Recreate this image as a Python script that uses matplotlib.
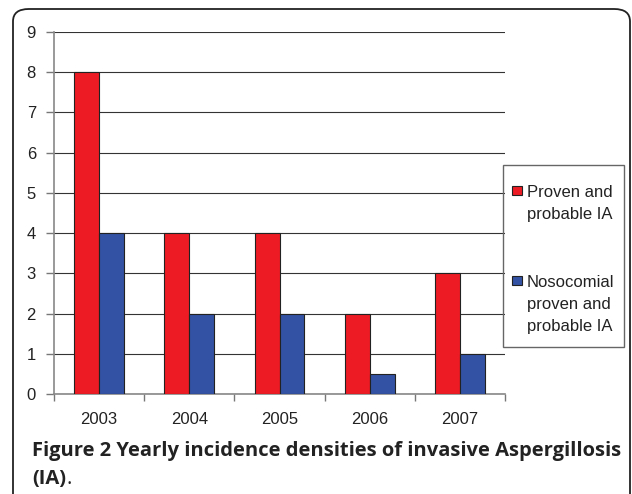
import numpy as np
import matplotlib.pyplot as plt
from matplotlib.patches import FancyBboxPatch, Rectangle

years = ['2003', '2004', '2005', '2006', '2007']
proven = [8, 4, 4, 2, 3]
nosocomial = [4, 2, 2, 0.5, 1]
series_names = [['Proven and', 'probable IA'],
                ['Nosocomial', 'proven and', 'probable IA']]
colors = ['#ED1C24', '#3352A3']

W, H = 632, 494
plt.rcParams['font.family'] = ['Liberation Sans', 'DejaVu Sans']
fig = plt.figure(figsize=(W / 100, H / 100), dpi=100)


def fx(px):
    return px / W


def fy(py):
    return 1 - py / H


# rounded frame around the whole figure
frame = FancyBboxPatch((fx(13), fy(520)), fx(630) - fx(13), fy(9) - fy(520),
                       boxstyle='round,pad=0,rounding_size=0.025',
                       transform=fig.transFigure, fill=False,
                       edgecolor='#222222', linewidth=1.3, clip_on=False)
fig.patches.append(frame)

ax = fig.add_axes([fx(54), fy(394), fx(505) - fx(54), fy(32) - fy(394)])
x = np.arange(len(years))
w = 0.277
ax.bar(x - w / 2, proven, w, color=colors[0], edgecolor='#222222', linewidth=0.8, zorder=3)
ax.bar(x + w / 2, nosocomial, w, color=colors[1], edgecolor='#222222', linewidth=0.8, zorder=3)

ax.set_xlim(-0.5, 4.5)
ax.set_ylim(0, 9)
ax.set_yticks(range(10))
ax.set_xticks(x)
ax.set_xticklabels(years)
ax.set_xticks(np.arange(-0.5, 5, 1), minor=True)
ax.tick_params(axis='x', which='major', length=0, pad=13, labelsize=12, labelcolor='#222222')
ax.tick_params(axis='x', which='minor', length=5, color='#777777', width=1)
ax.tick_params(axis='y', length=6, color='#777777', width=1, pad=7, labelsize=12, labelcolor='#222222')
ax.grid(axis='y', color='#333333', linewidth=0.8, zorder=0)
for s in ['top', 'right']:
    ax.spines[s].set_visible(False)
for s in ['left', 'bottom']:
    ax.spines[s].set_color('#888888')
    ax.spines[s].set_linewidth(1.2)

# legend box drawn by hand so the swatch sits next to the first line
fig.patches.append(Rectangle((fx(503), fy(347)), fx(624) - fx(503), fy(165) - fy(347),
                             transform=fig.transFigure, fill=False,
                             edgecolor='#666666', linewidth=1))
for top, col, lines in zip([186, 276], colors, series_names):
    fig.patches.append(Rectangle((fx(512), fy(top + 9)), fx(10), 9 / H,
                                 transform=fig.transFigure, facecolor=col,
                                 edgecolor='#222222', linewidth=0.8))
    for i, line in enumerate(lines):
        fig.text(fx(527), fy(top + 11 + 22 * i), line, fontsize=12,
                 color='#222222', va='baseline', ha='left')

cap_font = dict(fontsize=14.5, color='#222222', family='Open Sans', va='baseline', ha='left')
fig.text(fx(32), fy(456), 'Figure 2 Yearly incidence densities of invasive Aspergillosis',
         fontweight='bold', **cap_font)
t = fig.text(fx(32), fy(484), '(IA)', fontweight='bold', **cap_font)
r = fig.canvas.get_renderer()
bb = t.get_window_extent(renderer=r)
fig.text(bb.x1 / W, fy(484), '.', **cap_font)

fig.savefig('out.png', dpi=100)
